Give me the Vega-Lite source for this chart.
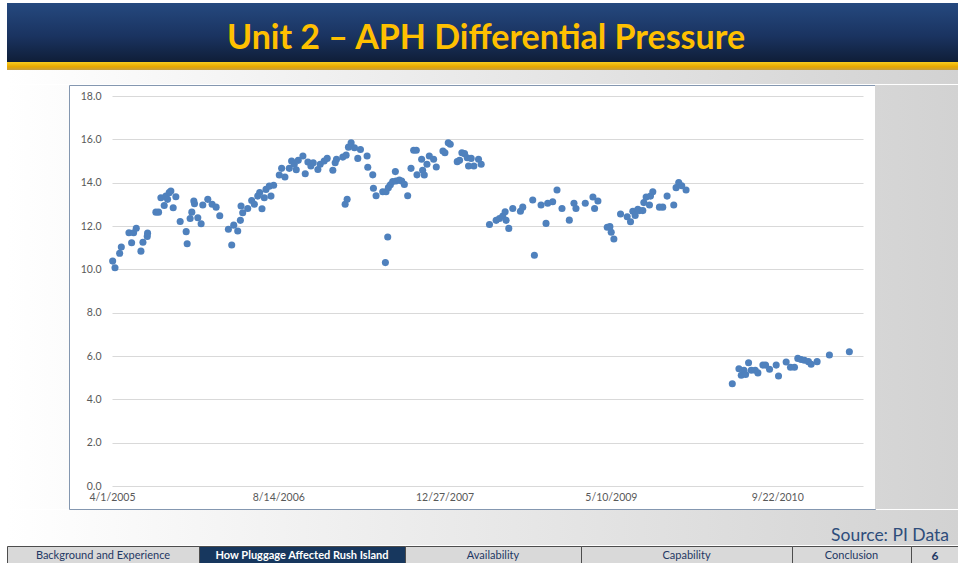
{
  "$schema": "https://vega.github.io/schema/vega-lite/v6.json",
  "background": "#ffffff",
  "padding": {"left": 6, "top": 3, "right": 0, "bottom": 0},
  "spacing": 0,
  "config": {"view": {"stroke": null}, "concat": {"spacing": 0}, "font": "Lato"},
  "vconcat": [
    {
      "width": 952, "height": 67,
      "view": {"stroke": null, "fill": {"gradient": "linear", "x1": 0, "y1": 0, "x2": 0, "y2": 1, "stops": [
        {"offset": 0, "color": "#25497f"}, {"offset": 0.5, "color": "#1a3360"}, {"offset": 0.875, "color": "#0f1e38"},
        {"offset": 0.88, "color": "#f9cc20"}, {"offset": 0.95, "color": "#e8a800"}, {"offset": 1, "color": "#c9a040"}]}},
      "data": {"values": [{"title": "Unit 2 – APH Differential Pressure"}]},
      "mark": {"type": "text", "font": "Lato", "fontWeight": "bold", "fontSize": 34, "color": "#ffc000", "baseline": "middle", "dy": 2, "dx": 3},
      "encoding": {"text": {"field": "title"}}
    },
    {
      "width": 952, "height": 14,
      "view": {"stroke": null, "fill": {"gradient": "linear", "x1": 0, "y1": 0, "x2": 1, "y2": 0, "stops": [{"offset": 0, "color": "#ffffff"}, {"offset": 1, "color": "#d2d2d2"}]}},
      "data": {"values": []},
      "mark": "point",
      "encoding": {}
    },
    {
      "spacing": 0,
      "bounds": "flush",
      "hconcat": [
        {
          "width": 62, "height": 424,
          "view": {"stroke": null, "fill": {"gradient": "linear", "x1": 0, "y1": 0, "x2": 1, "y2": 0, "stops": [{"offset": 0, "color": "#ffffff"}, {"offset": 1, "color": "#fcfcfc"}]}},
          "data": {"values": []},
          "mark": "point",
          "encoding": {}
        },
        {
          "width": 806, "height": 424,
          "view": {"fill": "#ffffff", "stroke": "#8497b0", "strokeWidth": 1},
          "data": {"values": [
            {"date": "2005/04/03", "value": 10.38}, {"date": "2005/04/10", "value": 10.07}, {"date": "2005/04/24", "value": 10.74},
            {"date": "2005/04/29", "value": 11.03}, {"date": "2005/05/22", "value": 11.69}, {"date": "2005/05/30", "value": 11.23},
            {"date": "2005/06/05", "value": 11.69}, {"date": "2005/06/13", "value": 11.90}, {"date": "2005/06/27", "value": 10.84},
            {"date": "2005/07/03", "value": 11.25}, {"date": "2005/07/16", "value": 11.52}, {"date": "2005/07/17", "value": 11.67},
            {"date": "2005/08/11", "value": 12.64}, {"date": "2005/08/19", "value": 12.64}, {"date": "2005/08/26", "value": 13.30},
            {"date": "2005/09/05", "value": 12.95}, {"date": "2005/09/10", "value": 13.38}, {"date": "2005/09/15", "value": 13.23},
            {"date": "2005/09/20", "value": 13.54}, {"date": "2005/09/25", "value": 13.61}, {"date": "2005/10/02", "value": 12.84},
            {"date": "2005/10/10", "value": 13.35}, {"date": "2005/10/23", "value": 12.21}, {"date": "2005/11/10", "value": 11.74},
            {"date": "2005/11/13", "value": 11.18}, {"date": "2005/11/22", "value": 12.35}, {"date": "2005/11/27", "value": 12.64},
            {"date": "2005/12/03", "value": 13.15}, {"date": "2005/12/05", "value": 13.03}, {"date": "2005/12/15", "value": 12.38},
            {"date": "2005/12/25", "value": 12.10}, {"date": "2005/12/30", "value": 12.97}, {"date": "2006/01/14", "value": 13.23},
            {"date": "2006/01/27", "value": 13.00}, {"date": "2006/02/08", "value": 12.87}, {"date": "2006/02/19", "value": 12.47},
            {"date": "2006/03/17", "value": 11.85}, {"date": "2006/03/27", "value": 11.12}, {"date": "2006/04/02", "value": 12.04},
            {"date": "2006/04/14", "value": 11.77}, {"date": "2006/04/22", "value": 12.26}, {"date": "2006/04/24", "value": 12.92},
            {"date": "2006/04/29", "value": 12.61}, {"date": "2006/05/14", "value": 12.81}, {"date": "2006/05/26", "value": 13.18},
            {"date": "2006/06/03", "value": 13.00}, {"date": "2006/06/13", "value": 13.38}, {"date": "2006/06/19", "value": 13.54},
            {"date": "2006/06/26", "value": 12.80}, {"date": "2006/07/03", "value": 13.30}, {"date": "2006/07/08", "value": 13.69},
            {"date": "2006/07/18", "value": 13.84}, {"date": "2006/07/23", "value": 13.38}, {"date": "2006/07/31", "value": 13.88},
            {"date": "2006/08/17", "value": 14.35}, {"date": "2006/08/24", "value": 14.66}, {"date": "2006/09/03", "value": 14.26},
            {"date": "2006/09/16", "value": 14.66}, {"date": "2006/09/23", "value": 15.00}, {"date": "2006/10/01", "value": 14.85},
            {"date": "2006/10/07", "value": 14.60}, {"date": "2006/10/13", "value": 15.03}, {"date": "2006/10/27", "value": 15.23},
            {"date": "2006/11/03", "value": 14.41}, {"date": "2006/11/11", "value": 14.95}, {"date": "2006/11/20", "value": 14.77},
            {"date": "2006/11/27", "value": 14.92}, {"date": "2006/12/11", "value": 14.61}, {"date": "2006/12/18", "value": 14.85},
            {"date": "2006/12/30", "value": 15.00}, {"date": "2007/01/08", "value": 15.12}, {"date": "2007/01/25", "value": 14.57},
            {"date": "2007/02/01", "value": 14.92}, {"date": "2007/02/05", "value": 15.08}, {"date": "2007/02/24", "value": 15.18},
            {"date": "2007/03/03", "value": 13.00}, {"date": "2007/03/06", "value": 15.27}, {"date": "2007/03/09", "value": 13.23},
            {"date": "2007/03/13", "value": 15.64}, {"date": "2007/03/21", "value": 15.84}, {"date": "2007/03/31", "value": 15.61},
            {"date": "2007/04/10", "value": 15.12}, {"date": "2007/04/18", "value": 15.53}, {"date": "2007/05/08", "value": 15.23},
            {"date": "2007/05/10", "value": 14.71}, {"date": "2007/05/25", "value": 14.36}, {"date": "2007/05/27", "value": 13.74},
            {"date": "2007/06/04", "value": 13.40}, {"date": "2007/06/24", "value": 13.58}, {"date": "2007/07/02", "value": 10.31},
            {"date": "2007/07/04", "value": 13.58}, {"date": "2007/07/09", "value": 11.49}, {"date": "2007/07/11", "value": 13.77},
            {"date": "2007/07/17", "value": 13.90}, {"date": "2007/07/24", "value": 14.05}, {"date": "2007/08/01", "value": 14.51},
            {"date": "2007/08/03", "value": 14.08}, {"date": "2007/08/13", "value": 14.12}, {"date": "2007/08/20", "value": 14.08},
            {"date": "2007/08/28", "value": 13.92}, {"date": "2007/09/07", "value": 13.40}, {"date": "2007/09/17", "value": 14.66},
            {"date": "2007/09/25", "value": 15.50}, {"date": "2007/10/03", "value": 15.50}, {"date": "2007/10/05", "value": 14.36},
            {"date": "2007/10/19", "value": 15.08}, {"date": "2007/10/22", "value": 14.57}, {"date": "2007/10/27", "value": 14.35},
            {"date": "2007/11/04", "value": 14.85}, {"date": "2007/11/11", "value": 15.23}, {"date": "2007/11/24", "value": 15.08},
            {"date": "2007/12/02", "value": 14.72}, {"date": "2007/12/22", "value": 15.46}, {"date": "2007/12/28", "value": 15.38},
            {"date": "2008/01/07", "value": 15.84}, {"date": "2008/01/13", "value": 15.77}, {"date": "2008/02/03", "value": 14.97},
            {"date": "2008/02/10", "value": 15.03}, {"date": "2008/02/17", "value": 15.38}, {"date": "2008/02/25", "value": 15.34},
            {"date": "2008/03/04", "value": 15.15}, {"date": "2008/03/08", "value": 14.77}, {"date": "2008/03/16", "value": 15.12},
            {"date": "2008/03/24", "value": 14.77}, {"date": "2008/04/07", "value": 15.08}, {"date": "2008/04/15", "value": 14.85},
            {"date": "2008/05/10", "value": 12.07}, {"date": "2008/05/30", "value": 12.26}, {"date": "2008/06/09", "value": 12.35},
            {"date": "2008/06/19", "value": 12.46}, {"date": "2008/06/26", "value": 12.66}, {"date": "2008/06/29", "value": 12.26},
            {"date": "2008/07/07", "value": 11.89}, {"date": "2008/07/19", "value": 12.81}, {"date": "2008/08/11", "value": 12.68},
            {"date": "2008/08/18", "value": 12.87}, {"date": "2008/09/17", "value": 13.20}, {"date": "2008/09/22", "value": 10.65},
            {"date": "2008/10/12", "value": 12.97}, {"date": "2008/10/27", "value": 12.12}, {"date": "2008/11/01", "value": 13.05},
            {"date": "2008/11/16", "value": 13.12}, {"date": "2008/11/29", "value": 13.66}, {"date": "2008/12/14", "value": 12.81},
            {"date": "2009/01/05", "value": 12.27}, {"date": "2009/01/19", "value": 13.05}, {"date": "2009/01/25", "value": 12.81},
            {"date": "2009/02/22", "value": 13.05}, {"date": "2009/03/17", "value": 13.34}, {"date": "2009/03/22", "value": 12.81},
            {"date": "2009/04/01", "value": 13.15}, {"date": "2009/04/29", "value": 11.94}, {"date": "2009/05/07", "value": 11.97},
            {"date": "2009/05/11", "value": 11.71}, {"date": "2009/05/19", "value": 11.40}, {"date": "2009/06/08", "value": 12.55},
            {"date": "2009/06/28", "value": 12.43}, {"date": "2009/07/08", "value": 12.20}, {"date": "2009/07/15", "value": 12.68},
            {"date": "2009/07/22", "value": 12.49}, {"date": "2009/07/30", "value": 12.77}, {"date": "2009/08/04", "value": 12.71},
            {"date": "2009/08/14", "value": 12.71}, {"date": "2009/08/17", "value": 13.08}, {"date": "2009/08/24", "value": 13.34},
            {"date": "2009/09/03", "value": 12.97}, {"date": "2009/09/06", "value": 13.38}, {"date": "2009/09/13", "value": 13.58},
            {"date": "2009/10/03", "value": 12.87}, {"date": "2009/10/13", "value": 12.87}, {"date": "2009/10/26", "value": 13.38},
            {"date": "2009/11/15", "value": 12.97}, {"date": "2009/11/22", "value": 13.77}, {"date": "2009/11/30", "value": 14.01},
            {"date": "2009/12/09", "value": 13.86}, {"date": "2009/12/22", "value": 13.66},
            {"date": "2010/05/10", "value": 4.72}, {"date": "2010/05/30", "value": 5.41}, {"date": "2010/06/06", "value": 5.11},
            {"date": "2010/06/14", "value": 5.34}, {"date": "2010/06/19", "value": 5.15}, {"date": "2010/06/28", "value": 5.69},
            {"date": "2010/07/06", "value": 5.34}, {"date": "2010/07/18", "value": 5.34}, {"date": "2010/07/26", "value": 5.22},
            {"date": "2010/08/10", "value": 5.58}, {"date": "2010/08/18", "value": 5.58}, {"date": "2010/08/30", "value": 5.39},
            {"date": "2010/09/19", "value": 5.58}, {"date": "2010/09/26", "value": 5.08}, {"date": "2010/10/19", "value": 5.72},
            {"date": "2010/11/01", "value": 5.48}, {"date": "2010/11/13", "value": 5.48}, {"date": "2010/11/23", "value": 5.89},
            {"date": "2010/12/03", "value": 5.84}, {"date": "2010/12/13", "value": 5.80}, {"date": "2010/12/25", "value": 5.74},
            {"date": "2011/01/02", "value": 5.62}, {"date": "2011/01/20", "value": 5.74}, {"date": "2011/02/26", "value": 6.05},
            {"date": "2011/04/27", "value": 6.20}
          ]},
          "mark": {"type": "point", "filled": true, "size": 50, "color": "#4f81bd", "opacity": 1},
          "encoding": {
            "x": {
              "field": "date", "type": "temporal",
              "scale": {"domain": [{"year": 2005, "month": 4, "date": 1}, {"year": 2011, "month": 6, "date": 7}], "range": [43, 794], "nice": false},
              "axis": {
                "title": null, "grid": false, "ticks": false, "domain": false, "offset": -23,
                "values": [{"year": 2005, "month": 4, "date": 1}, {"year": 2006, "month": 8, "date": 14}, {"year": 2007, "month": 12, "date": 27}, {"year": 2009, "month": 5, "date": 10}, {"year": 2010, "month": 9, "date": 22}],
                "format": "%-m/%-d/%Y", "labelFlush": false, "labelOverlap": false, "labelPadding": 6,
                "labelFont": "Lato", "labelFontSize": 10.5, "labelColor": "#595959"
              }
            },
            "y": {
              "field": "value", "type": "quantitative",
              "scale": {"domain": [0, 18], "range": [401, 11], "nice": false},
              "axis": {
                "title": null, "grid": true, "gridColor": "#d9d9d9", "gridWidth": 1, "ticks": false, "domain": false, "offset": -43,
                "values": [0, 2, 4, 6, 8, 10, 12, 14, 16, 18], "format": ".1f", "labelPadding": 11,
                "labelFont": "Lato", "labelFontSize": 10.5, "labelColor": "#595959"
              }
            }
          }
        },
        {
          "width": 84, "height": 424,
          "view": {"stroke": null, "fill": {"gradient": "linear", "x1": 0, "y1": 0, "x2": 1, "y2": 0, "stops": [{"offset": 0, "color": "#d6d6d6"}, {"offset": 1, "color": "#d2d2d2"}]}},
          "data": {"values": []},
          "mark": "point",
          "encoding": {}
        }
      ]
    },
    {
      "width": 952, "height": 35,
      "view": {"stroke": null, "fill": {"gradient": "linear", "x1": 0, "y1": 0, "x2": 1, "y2": 0, "stops": [{"offset": 0, "color": "#ffffff"}, {"offset": 1, "color": "#d2d2d2"}]}},
      "data": {"values": [{"src": "Source: PI Data"}]},
      "mark": {"type": "text", "font": "Lato", "fontSize": 17.5, "color": "#2e4d7b", "align": "right", "baseline": "alphabetic", "dx": -10, "dy": -4},
      "encoding": {"text": {"field": "src"}, "x": {"value": "width"}, "y": {"value": "height"}}
    },
    {
      "spacing": 0,
      "bounds": "flush",
      "hconcat": [
        {
          "width": 192, "height": 20,
          "view": {"fill": "#d9d9d9", "stroke": "#4d4d4d", "strokeWidth": 1},
          "data": {"values": [{"t": "Background and Experience"}]},
          "mark": {"type": "text", "font": "Lato", "fontSize": 11, "color": "#1f3864", "baseline": "middle"},
          "encoding": {"text": {"field": "t"}}
        },
        {
          "width": 206, "height": 20,
          "view": {"fill": "#17375e", "stroke": "#4d4d4d", "strokeWidth": 1},
          "data": {"values": [{"t": "How Pluggage Affected Rush Island"}]},
          "mark": {"type": "text", "font": "Lato", "fontSize": 11, "fontWeight": "bold", "color": "#ffffff", "baseline": "middle"},
          "encoding": {"text": {"field": "t"}}
        },
        {
          "width": 176, "height": 20,
          "view": {"fill": "#d9d9d9", "stroke": "#4d4d4d", "strokeWidth": 1},
          "data": {"values": [{"t": "Availability"}]},
          "mark": {"type": "text", "font": "Lato", "fontSize": 11, "color": "#1f3864", "baseline": "middle"},
          "encoding": {"text": {"field": "t"}}
        },
        {
          "width": 211, "height": 20,
          "view": {"fill": "#d9d9d9", "stroke": "#4d4d4d", "strokeWidth": 1},
          "data": {"values": [{"t": "Capability"}]},
          "mark": {"type": "text", "font": "Lato", "fontSize": 11, "color": "#1f3864", "baseline": "middle"},
          "encoding": {"text": {"field": "t"}}
        },
        {
          "width": 119, "height": 20,
          "view": {"fill": "#d9d9d9", "stroke": "#4d4d4d", "strokeWidth": 1},
          "data": {"values": [{"t": "Conclusion"}]},
          "mark": {"type": "text", "font": "Lato", "fontSize": 11, "color": "#1f3864", "baseline": "middle"},
          "encoding": {"text": {"field": "t"}}
        },
        {
          "width": 48, "height": 20,
          "view": {"fill": "#d9d9d9", "stroke": "#4d4d4d", "strokeWidth": 1},
          "data": {"values": [{"t": "6"}]},
          "mark": {"type": "text", "font": "Lato", "fontSize": 12, "fontWeight": "bold", "color": "#1f3864", "baseline": "middle"},
          "encoding": {"text": {"field": "t"}}
        }
      ]
    }
  ]
}
